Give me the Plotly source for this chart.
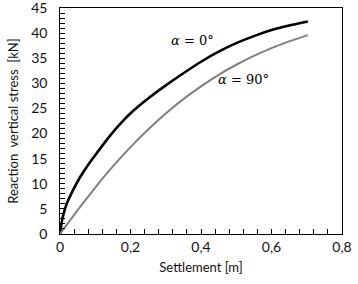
import plotly.graph_objects as go

settle_0 = [0, 0.005, 0.01, 0.02, 0.036, 0.056, 0.08, 0.1, 0.132, 0.165, 0.207, 0.25, 0.3,
            0.35, 0.4, 0.45, 0.5, 0.55, 0.6, 0.65, 0.703]
stress_0 = [0, 2.4, 4.0, 6.2, 8.6, 11.2, 13.8, 15.7, 18.7, 21.5, 24.5, 27.0, 29.6,
            32.0, 34.3, 36.3, 38.0, 39.4, 40.6, 41.5, 42.3]
settle_90 = [0, 0.05, 0.1, 0.15, 0.2, 0.25, 0.3, 0.35, 0.4, 0.45, 0.5, 0.55,
             0.6, 0.65, 0.703]
stress_90 = [0, 4.75, 9.25, 13.45, 17.3, 20.8, 24.0, 26.85, 29.4, 31.7, 33.7, 35.45,
             37.0, 38.35, 39.6]

fig = go.Figure()
fig.add_trace(go.Scatter(x=settle_0, y=stress_0, mode="lines",
                         line=dict(color="black", width=2.6, shape="spline", smoothing=0.4)))
fig.add_trace(go.Scatter(x=settle_90, y=stress_90, mode="lines",
                         line=dict(color="#808080", width=2, shape="spline", smoothing=0.4)))

fig.add_annotation(x=0.375, y=38.6, text="<i>α</i> = 0°", showarrow=False,
                   font=dict(family="DejaVu Serif", size=13, color="black"))
fig.add_annotation(x=0.52, y=30.7, text="<i>α</i> = 90°", showarrow=False,
                   font=dict(family="DejaVu Serif", size=13, color="black"))

tickfont = dict(family="Lato", size=14, color="#111")
titlefont = dict(family="Lato", size=13, color="#111")

fig.update_xaxes(range=[0, 0.8], tickmode="linear", tick0=0, dtick=0.2,
                 showline=True, linecolor="black", linewidth=1, mirror=True,
                 showgrid=False, zeroline=False,
                 ticks="inside", ticklen=5, tickwidth=1, tickcolor="black",
                 minor=dict(ticks="inside", dtick=0.04, ticklen=5, tickwidth=1,
                            tickcolor="black", showgrid=False),
                 automargin=False, ticklabeloverflow="allow", tickfont=tickfont,
                 title=dict(text="Settlement [m]", font=titlefont, standoff=9))
fig.update_yaxes(range=[0, 45], tickmode="linear", tick0=0, dtick=5,
                 ticksuffix="\u2002\u2009",
                 showline=True, linecolor="black", linewidth=1, mirror=True,
                 showgrid=False, zeroline=False,
                 ticks="inside", ticklen=5, tickwidth=1, tickcolor="black",
                 minor=dict(ticks="inside", dtick=1, ticklen=5, tickwidth=1,
                            tickcolor="black", showgrid=False),
                 automargin=False, ticklabeloverflow="allow", tickfont=tickfont,
                 title=dict(text="Reaction  vertical stress  [kN]", font=titlefont, standoff=9))

fig.update_layout(width=358, height=284, showlegend=False, separators=",.",
                  template="none",
                  margin=dict(l=60, r=16, t=8, b=50),
                  plot_bgcolor="white", paper_bgcolor="white")
fig.write_html("out.html", config={"displayModeBar": False},
               post_script="document.body.style.margin='0';")
